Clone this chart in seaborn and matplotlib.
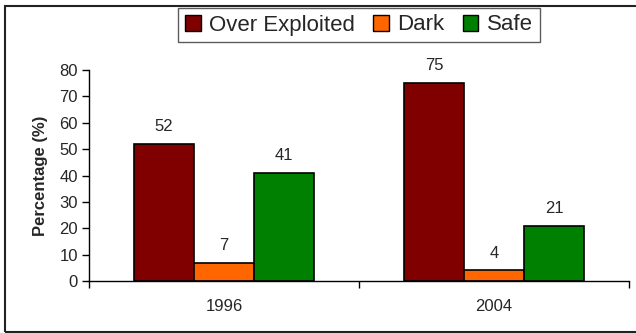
import pandas as pd
import matplotlib.pyplot as plt
import seaborn as sns
from matplotlib.patches import Rectangle
from matplotlib.ticker import FixedLocator

# Chart values
years = ['1996', '2004']
categories = ['Over Exploited', 'Dark', 'Safe']
over_exploited = [52, 75]
dark = [7, 4]
safe = [41, 21]
colors = ['#800000', '#FF6600', '#008000']

df = pd.DataFrame({
    'Year': years * 3,
    'Category': [c for c in categories for _ in years],
    'Value': over_exploited + dark + safe,
})

sns.set_style("white")
plt.rcParams['font.family'] = ['Liberation Sans', 'DejaVu Sans']

fig = plt.figure(figsize=(6.36, 3.33), dpi=100)
ax = fig.add_axes([89 / 636, 1 - 281 / 333, 540 / 636, 211 / 333])

sns.barplot(
    data=df, x='Year', y='Value', hue='Category',
    order=years, hue_order=categories, palette=colors,
    width=2 / 3, edgecolor='black', linewidth=1.2, saturation=1,
    ax=ax
)

# value labels
for container in ax.containers:
    ax.bar_label(container, padding=7, fontsize=12)

ax.set_ylim(0, 80)
ax.set_xlim(-0.5, 1.5)
ax.set_yticks(range(0, 81, 10))
ax.tick_params(axis='y', labelsize=12, length=5, width=1, color='black', left=True, pad=3)

# category separators as major ticks, year labels as minor ticks
ax.xaxis.set_major_locator(FixedLocator([-0.5, 0.5, 1.5]))
ax.set_xticklabels([])
ax.xaxis.set_minor_locator(FixedLocator([0, 1]))
ax.set_xticklabels(years, minor=True)
ax.tick_params(axis='x', which='major', length=5, width=1, color='black', bottom=True)
ax.tick_params(axis='x', which='minor', length=0, labelsize=12, pad=13)

ax.set_xlabel('')
ax.set_ylabel('Percentage (%)', fontsize=12, fontweight='bold', labelpad=8)

for side in ['top', 'right']:
    ax.spines[side].set_visible(False)
for side in ['left', 'bottom']:
    ax.spines[side].set_color('black')
    ax.spines[side].set_linewidth(1)

leg = ax.legend(
    loc='center', bbox_to_anchor=(359 / 636, 1 - 25 / 333),
    bbox_transform=fig.transFigure, ncol=3, fontsize=16,
    frameon=True, fancybox=False, handlelength=0.7, handleheight=0.7,
    handletextpad=0.4, columnspacing=0.8, borderpad=0.3,
)
leg.get_frame().set_edgecolor('#333333')
leg.get_frame().set_linewidth(1)
for h in leg.legend_handles:
    h.set_edgecolor('black')
    h.set_linewidth(1)

# chart area border
fig.patches.append(Rectangle((4.5 / 636, 1.5 / 333), 1.2, 326 / 333,
                             transform=fig.transFigure, fill=False,
                             edgecolor='#222222', linewidth=1.5))

plt.savefig('out.png', dpi=100)
